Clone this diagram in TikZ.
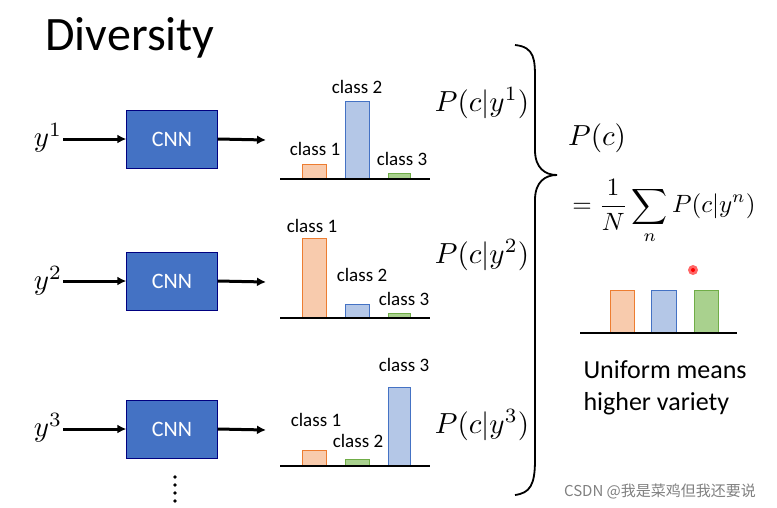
\documentclass[tikz,border=0pt]{standalone}
\usepackage{amsmath}
\usepackage{fontspec}
\setmainfont{Carlito}
\newfontfamily\cjk{Noto Sans CJK SC}
\usetikzlibrary{arrows.meta}
\newcommand{\mybigmath}[1]{\scalebox{2.9}{#1}}
\begin{document}
\begin{tikzpicture}[x=1pt,y=-1pt,
  cnn/.style={draw=blue!50!black,fill={rgb,255:red,68;green,114;blue,196},minimum width=91pt,minimum height=58pt,text=white,font=\fontsize{22}{24}\selectfont},
  arr/.style={line width=3pt,-{Latex[length=9pt,width=9pt]}},
  lab/.style={font=\fontsize{19}{21}\selectfont},
  mth/.style={inner sep=1pt},
  ob/.style={draw={rgb,255:red,237;green,125;blue,49},fill={rgb,255:red,248;green,203;blue,173}},
  bb/.style={draw={rgb,255:red,68;green,114;blue,196},fill={rgb,255:red,180;green,199;blue,231}},
  gb/.style={draw={rgb,255:red,112;green,173;blue,71},fill={rgb,255:red,169;green,209;blue,142}},
  base/.style={line width=2pt}]
\useasboundingbox (0,0) rectangle (777,507);
\node[font=\fontsize{48}{50}\selectfont] (title) at (130,38) {Diversity};
% row 1
\node[mth] (y1) at (48,138) {\mybigmath{$y^1$}};
\node[cnn] (c1) at (172,139) {CNN};
\coordinate (e1) at (266,140);
\draw[arr] (y1.east|-c1.west) -- (c1.west);
\draw[arr] (c1.east) -- (e1);
\draw[ob] (302,179) rectangle (326,164);
\draw[bb] (345,179) rectangle (369,101);
\draw[gb] (388,179) rectangle (410,173);
\draw[base] (280,179) -- (430,179);
\node[lab] (a1) at (315,149) {class 1};
\node[lab] (a2) at (357,87) {class 2};
\node[lab] (a3) at (402,159) {class 3};
\node[mth] (p1) at (482,103) {\mybigmath{$P(c|y^1)$}};
% row 2
\node[mth] (y2) at (48,281) {\mybigmath{$y^2$}};
\node[cnn] (c2) at (172,281) {CNN};
\coordinate (e2) at (266,282);
\draw[arr] (y2.east|-c2.west) -- (c2.west);
\draw[arr] (c2.east) -- (e2);
\draw[ob] (302,318) rectangle (326,238);
\draw[bb] (345,318) rectangle (369,304);
\draw[gb] (388,318) rectangle (410,313);
\draw[base] (280,318) -- (430,318);
\node[lab] (b1) at (312,226) {class 1};
\node[lab] (b2) at (362,275) {class 2};
\node[lab] (b3) at (404,299) {class 3};
\node[mth] (p2) at (482,255) {\mybigmath{$P(c|y^2)$}};
% row 3
\node[mth] (y3) at (48,428) {\mybigmath{$y^3$}};
\node[cnn] (c3) at (172,429) {CNN};
\coordinate (e3) at (266,430);
\draw[arr] (y3.east|-c3.west) -- (c3.west);
\draw[arr] (c3.east) -- (e3);
\draw[ob] (302,466) rectangle (326,450);
\draw[gb] (345,466) rectangle (369,459);
\draw[bb] (388,466) rectangle (410,387);
\draw[base] (280,466) -- (430,466);
\node[lab] (d1) at (316,420) {class 1};
\node[lab] (d2) at (358,441) {class 2};
\node[lab] (d3) at (404,365) {class 3};
\node[mth] (p3) at (482,425) {\mybigmath{$P(c|y^3)$}};
% dots
\foreach \yy in {477,485,493,501} \fill (175,\yy) circle (1.8pt);
% brace
\draw[line width=1.8pt] (515,45) .. controls (535,47) and (535,60) .. (535,80)
  -- (535,150) .. controls (535,168) and (545,175) .. (557,175)
  .. controls (545,175) and (535,182) .. (535,200)
  -- (535,460) .. controls (535,485) and (530,493) .. (515,495);
% right side
\node[mth] (pc) at (597,138) {\mybigmath{$P(c)$}};
\node[mth] (sum) at (664,212) {\scalebox{2.5}{$=\dfrac{1}{N}\displaystyle\sum_n P(c|y^n)$}};
\draw[ob] (610,333) rectangle (634,290);
\draw[bb] (651,333) rectangle (676,290);
\draw[gb] (694,333) rectangle (718,290);
\draw[base] (580,333) -- (737,333);
\fill[red!60] (693,270) circle (5pt);
\fill[red] (693,270) circle (2pt);
\node[font=\fontsize{26}{32}\selectfont,align=left,anchor=west] (u) at (580,388) {Uniform means\\higher variety};
\node[font=\cjk\fontsize{15}{17}\selectfont,text=gray] (w) at (660,491) {CSDN @我是菜鸡但我还要说};
\end{tikzpicture}
\end{document}
